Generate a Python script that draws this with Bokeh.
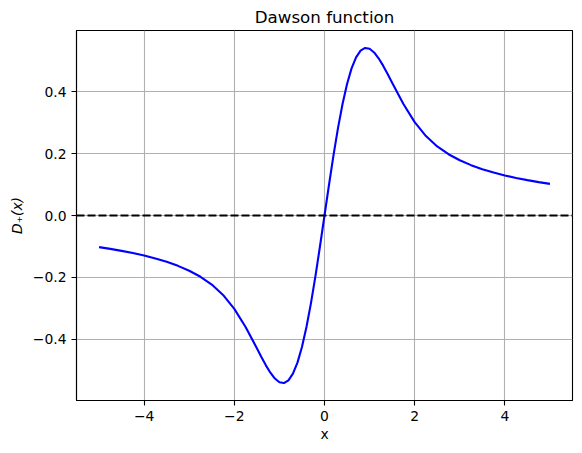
from bokeh.plotting import figure
from bokeh.models import Span, FixedTicker, CustomJSTickFormatter
from bokeh.embed import file_html
from bokeh.resources import INLINE

# Values
x_vals = [-5.0, -4.75, -4.5, -4.25, -4.0, -3.75, -3.5, -3.25, -3.0, -2.75, -2.5, -2.25,
          -2.0, -1.75, -1.5, -1.4, -1.3, -1.2, -1.1, -1.0, -0.9, -0.8, -0.7, -0.6,
          -0.5, -0.4, -0.3, -0.2, -0.1, 0.0,
          0.1, 0.2, 0.3, 0.4, 0.5, 0.6, 0.7, 0.8, 0.9, 1.0, 1.1, 1.2, 1.3, 1.4, 1.5,
          1.75, 2.0, 2.25, 2.5, 2.75, 3.0, 3.25, 3.5, 3.75, 4.0, 4.25, 4.5, 4.75, 5.0]
d_vals = [-0.1021, -0.1078, -0.1141, -0.1212, -0.1293, -0.1387, -0.1495, -0.1625, -0.1783,
          -0.1978, -0.2229, -0.2563, -0.3013, -0.3598, -0.4282, -0.4565, -0.4835, -0.5073,
          -0.5262, -0.5381, -0.5407, -0.5321, -0.5105, -0.4748, -0.4244, -0.3599, -0.2826,
          -0.1948, -0.0993, 0.0,
          0.0993, 0.1948, 0.2826, 0.3599, 0.4244, 0.4748, 0.5105, 0.5321, 0.5407, 0.5381,
          0.5262, 0.5073, 0.4835, 0.4565, 0.4282, 0.3598, 0.3013, 0.2563, 0.2229, 0.1978,
          0.1783, 0.1625, 0.1495, 0.1387, 0.1293, 0.1212, 0.1141, 0.1078, 0.1021]
x_ticks = [-4, -2, 0, 2, 4]
y_ticks = [-0.4, -0.2, 0.0, 0.2, 0.4]
baseline = 0.0

FONT = "DejaVu Sans"

p = figure(frame_width=496, frame_height=370, x_range=(-5.5, 5.5), y_range=(-0.597, 0.597),
           output_backend="svg", toolbar_location=None, title="Dawson function",
           min_border_left=76, min_border_right=2, min_border_top=24, min_border_bottom=10)
p.background_fill_color = "white"
p.border_fill_color = "white"
p.outline_line_color = "black"
p.outline_line_width = 1.1

p.title.text_font = FONT
p.title.text_font_size = "16.7px"
p.title.text_font_style = "normal"
p.title.text_color = "black"
p.title.align = "center"
p.title.standoff = 8

for ax in (p.xaxis, p.yaxis):
    ax.axis_line_color = "black"
    ax.axis_line_width = 1.1
    ax.major_tick_line_color = "black"
    ax.major_tick_line_width = 1.1
    ax.major_tick_out = 5
    ax.major_tick_in = 0
    ax.minor_tick_line_color = None
    ax.major_label_text_font = FONT
    ax.major_label_text_font_size = "13.9px"
    ax.major_label_text_color = "black"
    ax.axis_label_text_font = FONT
    ax.axis_label_text_font_size = "13.9px"
    ax.axis_label_text_color = "black"
    ax.major_label_standoff = 5

p.xaxis.ticker = FixedTicker(ticks=x_ticks)
p.yaxis.ticker = FixedTicker(ticks=y_ticks)
p.xaxis.formatter = CustomJSTickFormatter(code="""
    var v = Math.round(tick);
    return v < 0 ? '\u2212' + Math.abs(v) : '' + v;
""")
p.yaxis.formatter = CustomJSTickFormatter(code="""
    if (Math.abs(tick) < 1e-9) { return '0.0'; }
    var s = Math.abs(tick).toFixed(1);
    return tick < 0 ? '\u2212' + s : s;
""")
p.xaxis.axis_label = "x"
p.xaxis.axis_label_text_font_style = "normal"
p.xaxis.axis_label_standoff = 2
p.yaxis.axis_label = "D\u208a(x)"
p.yaxis.axis_label_text_font_style = "italic"
p.yaxis.axis_label_standoff = 5

p.grid.grid_line_color = "#b0b0b0"
p.grid.grid_line_width = 1.1
p.xgrid.ticker = FixedTicker(ticks=x_ticks)
p.ygrid.ticker = FixedTicker(ticks=y_ticks)

p.line(x_vals, d_vals, line_color="blue", line_width=2.1)
p.add_layout(Span(location=baseline, dimension="width", line_color="black",
                  line_width=2.1, line_dash="8 3"))

open("out.html", "w").write(file_html(p, INLINE))
